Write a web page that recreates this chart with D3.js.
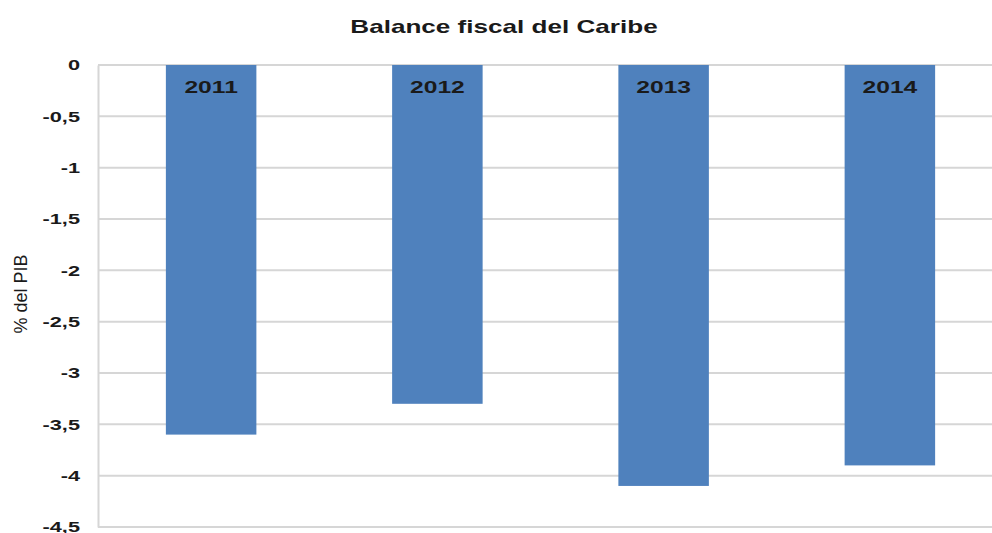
<!DOCTYPE html>
<html>
<head>
<meta charset="utf-8">
<script src="https://cdn.jsdelivr.net/npm/d3@7"></script>
<style>
  body { margin: 0; background: #fff; }
  text { font-family: "Liberation Sans", Arial, sans-serif; fill: #1a1a1a; }
</style>
</head>
<body>
<div id="chart"></div>
<script>
// data
var years = ["2011", "2012", "2013", "2014"];
var balance = [-3.6, -3.3, -4.1, -3.9];
var yTicks = [0, -0.5, -1, -1.5, -2, -2.5, -3, -3.5, -4, -4.5];

var w = 992, h = 533;
var plotLeft = 98, plotTop = 65, plotBottom = 527, plotRight = 1003;
var stretch = 1.45; // text in the reference is wide

var svg = d3.select("#chart")
    .append("svg")
    .attr("width", w)
    .attr("height", h);

var xScale = d3.scaleBand()
    .domain(years)
    .range([plotLeft, plotRight])
    .paddingInner(0.6)
    .paddingOuter(0.3);

var yScale = d3.scaleLinear()
    .domain([0, -4.5])
    .range([plotTop, plotBottom]);

// gridlines
svg.append("g")
    .selectAll("line")
    .data(yTicks)
    .enter()
    .append("line")
    .attr("x1", plotLeft)
    .attr("x2", w)
    .attr("y1", function(d){ return yScale(d); })
    .attr("y2", function(d){ return yScale(d); })
    .attr("stroke", "#d6d6d6")
    .attr("stroke-width", 2);

// y axis
var yAxis = d3.axisLeft(yScale)
    .tickValues(yTicks)
    .tickSize(0)
    .tickPadding(18 / stretch)
    .tickFormat(function(d){ return String(d).replace(".", ","); });

var ya = svg.append("g")
    .attr("transform", "translate(" + plotLeft + ",0)")
    .call(yAxis);
ya.select(".domain").attr("stroke", "#d6d6d6").attr("stroke-width", 2);
ya.selectAll("text")
    .attr("transform", "scale(" + stretch + ",1)")
    .style("font-size", "15px")
    .style("font-weight", "bold")
    .attr("fill", "#1a1a1a");

// bars
svg.append("g")
    .selectAll("rect")
    .data(balance)
    .enter()
    .append("rect")
    .attr("x", function(d, i){ return xScale(years[i]); })
    .attr("y", yScale(0))
    .attr("width", xScale.bandwidth())
    .attr("height", function(d){ return yScale(d) - yScale(0); })
    .attr("fill", "#4f81bd");

// year labels inside bars
svg.append("g")
    .selectAll("text")
    .data(years)
    .enter()
    .append("text")
    .attr("transform", function(d){
        return "translate(" + (xScale(d) + xScale.bandwidth() / 2) + ",93) scale(" + stretch + ",1)";
    })
    .attr("text-anchor", "middle")
    .style("font-size", "17px")
    .style("font-weight", "bold")
    .text(function(d){ return d; });

// title
svg.append("text")
    .attr("transform", "translate(504,33) scale(" + stretch + ",1)")
    .attr("text-anchor", "middle")
    .style("font-size", "18px")
    .style("font-weight", "bold")
    .text("Balance fiscal del Caribe");

// y axis label
svg.append("text")
    .attr("transform", "translate(27,294) rotate(-90)")
    .attr("text-anchor", "middle")
    .style("font-size", "18px")
    .attr("fill", "#333")
    .text("% del PIB");
</script>
</body>
</html>
